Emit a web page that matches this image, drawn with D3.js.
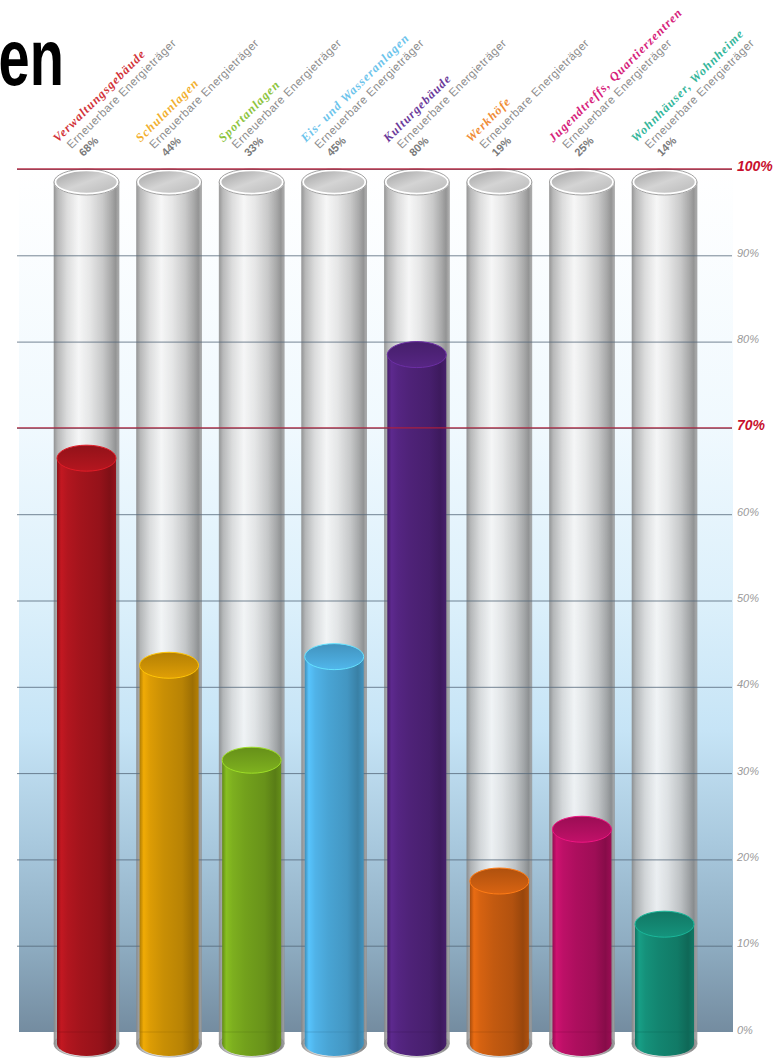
<!DOCTYPE html>
<html><head><meta charset="utf-8">
<script src="https://cdn.jsdelivr.net/npm/d3@7/dist/d3.min.js"></script>
<style>
html,body{margin:0;padding:0;background:#fff;}
svg{display:block;}
</style></head>
<body>
<svg id="chart" width="784" height="1060"></svg>
<script>
// ---- data ----
const categories = ["Verwaltungsgebäude","Schulanlagen","Sportanlagen","Eis- und Wasseranlagen","Kulturgebäude","Werkhöfe","Jugendtreffs, Quartierzentren","Wohnhäuser, Wohnheime"];
const values = [68, 44, 33, 45, 80, 19, 25, 14];
const subLabel = "Erneuerbare Energieträger";
const tickValues = [0,10,20,30,40,50,60,70,80,90,100];
const targetTicks = [70,100];
const titleText = "en";

// ---- styles ----
const barColors = ["#a3141c","#c98f05","#72a01c","#49a4d4","#4e2277","#c35a10","#ad0f5e","#138570"];
const nameColors = ["#d2343a","#f2b030","#8dc43d","#6cc4ec","#6b3a9a","#f08c36","#d6217a","#33b69b"];

const svg = d3.select("#chart");
const defs = svg.append("defs");

const x = d3.scaleBand().domain(categories).range([54, 697]).paddingInner(0.213).paddingOuter(0);
const y = d3.scaleLinear().domain([0,100]).range([1032, 169]);
const ry = 13;
const bottomCy = 1044;

// title fragment
svg.append("g").attr("transform","translate(0,85) scale(0.7,1)")
  .append("text").attr("text-anchor","start").attr("x",-2)
  .attr("font-family","Liberation Sans, Arial, sans-serif").attr("font-weight","bold")
  .attr("font-size",80).attr("fill","#000").text(titleText);

// background gradient
const bg = defs.append("linearGradient").attr("id","bgGrad").attr("x1",0).attr("y1",0).attr("x2",0).attr("y2",1);
[[0,"#ffffff"],[0.3,"#f0f9fe"],[0.5,"#dcf0fb"],[0.65,"#c6e4f6"],[0.78,"#a9c9de"],[0.9,"#8eacc1"],[1,"#748ca0"]]
  .forEach(s=>bg.append("stop").attr("offset",s[0]).attr("stop-color",s[1]));
svg.append("rect").attr("x",19).attr("y",y(100)).attr("width",733-19).attr("height",y(0)-y(100)).attr("fill","url(#bgGrad)");

// glass gradients
const gg = defs.append("linearGradient").attr("id","glassGrad").attr("x1",0).attr("y1",0).attr("x2",1).attr("y2",0);
[[0,"#8a8a8a"],[0.06,"#b0b0b0"],[0.2,"#d8d8d8"],[0.38,"#f6f6f6"],[0.55,"#e4e4e4"],[0.75,"#c2c2c2"],[0.88,"#9e9e9e"],[0.95,"#868686"],[1,"#a6a6a6"]]
  .forEach(s=>gg.append("stop").attr("offset",s[0]).attr("stop-color",s[1]));
const gi = defs.append("linearGradient").attr("id","glassInner").attr("x1",0).attr("y1",0).attr("x2",1).attr("y2",1);
[[0,"#a0a0a0"],[0.5,"#d4d4d4"],[1,"#b8b8b8"]].forEach(s=>gi.append("stop").attr("offset",s[0]).attr("stop-color",s[1]));

const tubes = svg.append("g").selectAll("g").data(categories).join("g");
tubes.append("rect")
  .attr("x",d=>x(d)).attr("width",x.bandwidth())
  .attr("y",y(100)+ry).attr("height",bottomCy-(y(100)+ry))
  .attr("fill","url(#glassGrad)").attr("opacity",0.88)
  .attr("stroke","#8a8a8a").attr("stroke-width",0.6);
tubes.append("ellipse")
  .attr("cx",d=>x(d)+x.bandwidth()/2).attr("cy",bottomCy)
  .attr("rx",x.bandwidth()/2).attr("ry",ry)
  .attr("fill","url(#glassGrad)").attr("stroke","#8a8a8a").attr("stroke-width",0.6);

// axis (gray grid + labels)
const axis = d3.axisRight(y).tickValues(tickValues).tickSize(-(732-17)).tickPadding(5).tickFormat(d=>d+"%");
const ag = svg.append("g").attr("transform","translate(732,0)").call(axis);
ag.select(".domain").remove();
ag.selectAll(".tick line").attr("stroke","#56687a").attr("stroke-width",0.9).attr("opacity",d=>d===0?0:0.9);
ag.selectAll(".tick text")
  .attr("dy","0.1em")
  .attr("font-family","Liberation Sans, Arial, sans-serif")
  .attr("font-style","italic")
  .attr("font-size",d=>targetTicks.includes(d)?14:11)
  .attr("font-weight",d=>targetTicks.includes(d)?"bold":"normal")
  .attr("fill",d=>targetTicks.includes(d)?"#c8102e":"#9a9a9a");

// glass top openings
tubes.append("ellipse")
  .attr("cx",d=>x(d)+x.bandwidth()/2).attr("cy",y(100)+ry)
  .attr("rx",x.bandwidth()/2-1).attr("ry",ry-1)
  .attr("fill","url(#glassInner)").attr("stroke","#ffffff").attr("stroke-width",2.5);
tubes.append("ellipse")
  .attr("cx",d=>x(d)+x.bandwidth()/2).attr("cy",y(100)+ry)
  .attr("rx",x.bandwidth()/2).attr("ry",ry)
  .attr("fill","none").attr("stroke","#8a8a8a").attr("stroke-width",0.8);

// liquid gradients
barColors.forEach((c,i)=>{
  const b = d3.color(c);
  const lg = defs.append("linearGradient").attr("id","liq"+i).attr("x1",0).attr("y1",0).attr("x2",1).attr("y2",0);
  [[0,b.darker(0.4)],[0.07,b.brighter(0.5)],[0.18,b.brighter(0.25)],[0.4,b],[0.72,b.darker(0.25)],[0.9,b.darker(0.7)],[1,b.darker(0.3)]]
    .forEach(s=>lg.append("stop").attr("offset",s[0]).attr("stop-color",s[1].formatHex()));
  const tg = defs.append("linearGradient").attr("id","liqTop"+i).attr("x1",0).attr("y1",0).attr("x2",0).attr("y2",1);
  [[0,b.darker(0.3)],[0.5,b],[1,b.brighter(0.3)]]
    .forEach(s=>tg.append("stop").attr("offset",s[0]).attr("stop-color",s[1].formatHex()));
});

const inset = 3;
const bars = svg.append("g").selectAll("g").data(categories).join("g");
bars.append("rect")
  .attr("x",d=>x(d)+inset).attr("width",x.bandwidth()-2*inset)
  .attr("y",(d,i)=>y(values[i])+ry).attr("height",(d,i)=>bottomCy-(y(values[i])+ry))
  .attr("fill",(d,i)=>`url(#liq${i})`);
bars.append("ellipse")
  .attr("cx",d=>x(d)+x.bandwidth()/2).attr("cy",bottomCy)
  .attr("rx",x.bandwidth()/2-inset).attr("ry",ry-1)
  .attr("fill",(d,i)=>`url(#liq${i})`);
bars.append("ellipse")
  .attr("cx",d=>x(d)+x.bandwidth()/2).attr("cy",(d,i)=>y(values[i])+ry)
  .attr("rx",x.bandwidth()/2-inset).attr("ry",ry)
  .attr("fill",(d,i)=>`url(#liqTop${i})`)
  .attr("stroke",(d,i)=>d3.color(barColors[i]).brighter(0.9).formatHex()).attr("stroke-width",1);
bars.append("line")
  .attr("x1",d=>x(d)+inset).attr("x2",d=>x(d)+x.bandwidth()-inset)
  .attr("y1",y(0)).attr("y2",y(0))
  .attr("stroke",(d,i)=>d3.color(barColors[i]).darker(0.6).formatHex()).attr("stroke-width",0.6).attr("opacity",0.7);

// red target lines on top
svg.append("g").selectAll("line").data(targetTicks).join("line")
  .attr("x1",17).attr("x2",732).attr("y1",d=>y(d)).attr("y2",d=>y(d))
  .attr("stroke","#b3213a").attr("stroke-width",1.4).attr("opacity",0.9);

// rotated labels
const lab = svg.append("g").selectAll("g").data(categories).join("g")
  .attr("transform",d=>`translate(${x(d)+x.bandwidth()/2-3},157) rotate(-45)`);
lab.append("text").attr("x",-8).attr("y",-28)
  .attr("font-family","Liberation Serif, Times New Roman, serif")
  .attr("font-weight","bold").attr("font-style","italic").attr("font-size",12.3)
  .attr("letter-spacing",1.1)
  .attr("fill",(d,i)=>nameColors[i]).text(d=>d);
lab.append("text").attr("x",-3).attr("y",-14)
  .attr("font-family","Liberation Sans, Arial, sans-serif").attr("font-size",11.5)
  .attr("letter-spacing",0.5).attr("fill","#8c8c8c").text(subLabel);
lab.append("text").attr("x",0).attr("y",0)
  .attr("font-family","Liberation Sans, Arial, sans-serif").attr("font-weight","bold").attr("font-size",11)
  .attr("fill","#7a7a7a").text((d,i)=>values[i]+"%");
</script>
</body></html>
